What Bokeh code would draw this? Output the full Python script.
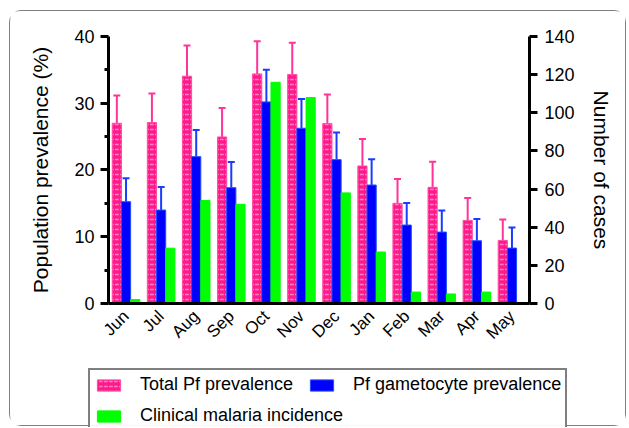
from bokeh.plotting import figure
from bokeh.models import (Range1d, LinearAxis, FactorRange, Whisker, TeeHead, Legend,
                          LegendItem, ColumnDataSource, FixedTicker)
from bokeh.transform import dodge
from bokeh.embed import file_html
from bokeh.resources import INLINE
import math

months = ["Jun", "Jul", "Aug", "Sep", "Oct", "Nov", "Dec", "Jan", "Feb", "Mar", "Apr", "May"]
total_pf = [27.0, 27.1, 34.05, 24.95, 34.4, 34.3, 26.95, 20.6, 15.0, 17.4, 12.45, 9.45]
total_pf_err = [4.15, 4.35, 4.6, 4.35, 4.9, 4.75, 4.35, 4.05, 3.65, 3.85, 3.35, 3.15]
gametocyte = [15.25, 14.0, 22.0, 17.35, 30.2, 26.25, 21.55, 17.75, 11.75, 10.7, 9.4, 8.3]
gametocyte_err = [3.5, 3.45, 4.0, 3.85, 4.8, 4.4, 4.05, 3.85, 3.3, 3.25, 3.25, 3.1]
clinical_cases = [2.1, 29, 54, 52, 116, 108, 58, 27, 6, 5, 6, 0]

left_ticks = [0, 10, 20, 30, 40]
left_minor = [5, 15, 25, 35]
right_ticks = [0, 20, 40, 60, 80, 100, 120, 140]

src = ColumnDataSource(dict(
    month=months,
    pf=total_pf,
    pf_up=[v + e for v, e in zip(total_pf, total_pf_err)],
    gam=gametocyte,
    gam_up=[v + e for v, e in zip(gametocyte, gametocyte_err)],
    cases=clinical_cases,
))

FONT = "Liberation Sans"
PINK = "#ff1a8c"
BLUE = "#0000ff"
GREEN = "#00ff00"

# frame fills the whole canvas; axes are pinned at data positions
xr = FactorRange(*months, range_padding=2.793, range_padding_units="absolute")
p = figure(width=617, height=416, x_range=xr,
           y_range=Range1d(-18.577, 43.745), output_backend="svg", toolbar_location=None,
           min_border=0, min_border_left=0, min_border_right=0,
           min_border_top=0, min_border_bottom=0)
p.styles = {"border": "1.5px solid #7f7f7f", "border-radius": "12px"}
p.margin = (10, 0, 0, 9)
p.extra_y_ranges = {"cases": Range1d(-65.02, 153.11)}
p.outline_line_color = None
p.xgrid.visible = False
p.ygrid.visible = False

w = 0.262
r_pf = p.vbar(x=dodge("month", -w, range=p.x_range), top="pf", width=w, source=src,
              fill_color=PINK, line_color="#ff4da6", line_width=1,
              hatch_pattern="horizontal_dash", hatch_color="#ff7fbf", hatch_scale=5, hatch_weight=1.5)
r_gam = p.vbar(x=dodge("month", 0, range=p.x_range), top="gam", width=w, source=src,
               fill_color=BLUE, line_color="#1f4fff", line_width=1)
r_cl = p.vbar(x=dodge("month", w, range=p.x_range), top="cases", width=w, source=src,
              fill_color=GREEN, line_color=GREEN, line_width=1, y_range_name="cases")

wk1 = Whisker(base=dodge("month", -w, range=p.x_range), lower="pf", upper="pf_up", source=src,
              line_color="#ff3399", line_width=2,
              upper_head=TeeHead(size=7, line_color="#ff3399", line_width=2), lower_head=None)
wk2 = Whisker(base=dodge("month", 0, range=p.x_range), lower="gam", upper="gam_up", source=src,
              line_color="#1a3cff", line_width=2,
              upper_head=TeeHead(size=7, line_color="#1a3cff", line_width=2), lower_head=None)
p.add_layout(wk1)
p.add_layout(wk2)

# left axis
ya = p.yaxis[0]
ya.ticker = FixedTicker(ticks=left_ticks, minor_ticks=left_minor)
ya.axis_label = "Population prevalence (%)"
ya.bounds = (0, 40)
ya.fixed_location = 0

# right axis
ra = LinearAxis(y_range_name="cases", ticker=FixedTicker(ticks=right_ticks),
                axis_label="Number of cases")
ra.bounds = (0, 140)
ra.fixed_location = 12
p.add_layout(ra, "right")

for ax in [ya, ra]:
    ax.axis_line_width = 3
    ax.axis_line_color = "black"
    ax.major_tick_line_width = 3
    ax.major_tick_line_color = "black"
    ax.major_tick_out = 8
    ax.major_tick_in = 0
    ax.minor_tick_line_width = 3
    ax.minor_tick_out = 4
    ax.minor_tick_in = 0
    ax.major_label_text_font = FONT
    ax.major_label_text_font_size = "18px"
    ax.major_label_text_color = "black"
    ax.axis_label_text_font = FONT
    ax.axis_label_text_font_size = "21px"
    ax.axis_label_text_font_style = "normal"
    ax.axis_label_text_color = "black"
ya.major_label_standoff = 6
ra.major_label_standoff = 7
ya.axis_label_standoff = 19
ra.axis_label_standoff = 12

xa = p.xaxis[0]
xa.fixed_location = 0
xa.bounds = (0, 12)
xa.axis_line_width = 3
xa.axis_line_color = "black"
xa.major_tick_line_color = None
xa.minor_tick_line_color = None
xa.major_label_orientation = math.pi / 4
xa.major_label_text_font = FONT
xa.major_label_text_font_size = "17px"
xa.major_label_text_color = "black"
xa.major_label_standoff = 4

leg_a = Legend(items=[LegendItem(label="Total Pf prevalence", renderers=[r_pf]),
                      LegendItem(label="Pf gametocyte prevalence", renderers=[r_gam])],
               orientation="horizontal", location=(78, -7),
               title=" ", title_location="below", title_text_font_size="24px",
               border_line_color="black", border_line_width=2, padding=4, spacing=14)
leg_b = Legend(items=[LegendItem(label="Clinical malaria incidence", renderers=[r_cl])],
               orientation="horizontal", location=(84, 1),
               border_line_color=None, background_fill_alpha=0, padding=9, spacing=9)
for lg in [leg_a, leg_b]:
    lg.glyph_width = 29
    lg.glyph_height = 14
    lg.label_standoff = 17
    lg.margin = 0
    lg.label_text_font = FONT
    lg.label_text_font_size = "18px"
    lg.label_text_color = "black"
    lg.label_height = 20
p.add_layout(leg_a, "center")
p.add_layout(leg_b, "center")

open("out.html", "w").write(file_html(p, INLINE))
